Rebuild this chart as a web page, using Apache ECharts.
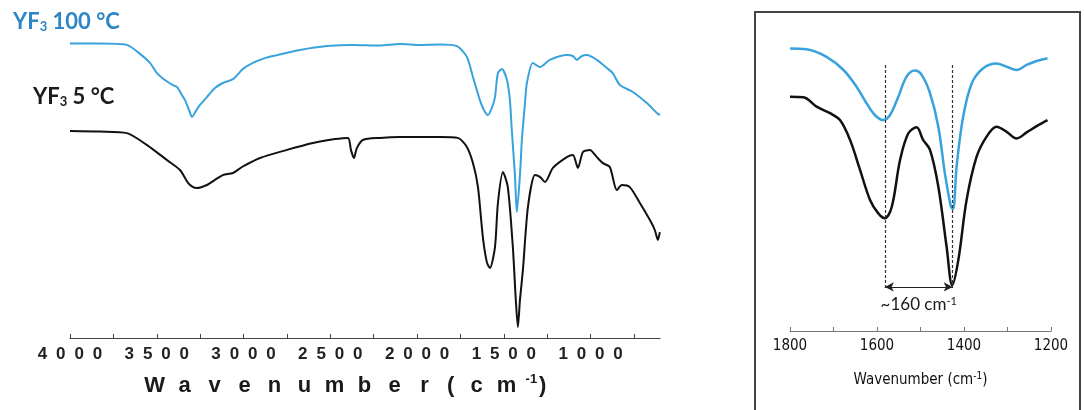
<!DOCTYPE html>
<html>
<head>
<meta charset="utf-8">
<script src="https://cdn.jsdelivr.net/npm/echarts@6/dist/echarts.min.js"></script>
<style>
  html, body { margin: 0; padding: 0; background: #fff; }
  #chart { width: 1084px; height: 410px; }
</style>
</head>
<body>
<div id="chart"></div>
<script>
// full spectrum, YF3 100 °C (blue)
const blueWn = [4000, 3827, 3672, 3597, 3539, 3499, 3453, 3407, 3384, 3355, 3337, 3314, 3297, 3274, 3251, 3211, 3165, 3119, 3061, 3003, 2946, 2877, 2807, 2675, 2519, 2370, 2214, 2099, 1984, 1868, 1770, 1713, 1678, 1638, 1615, 1592, 1569, 1551, 1534, 1511, 1482, 1465, 1454, 1436, 1425, 1407, 1396, 1379, 1367, 1333, 1292, 1235, 1137, 1102, 1079, 1050, 1021, 964, 906, 872, 831, 756, 676, 618, 601]
const blueT = [98.2, 98.2, 97.7, 94.7, 91.7, 88.3, 86.0, 84.3, 83.7, 81.0, 79.3, 76.0, 73.7, 75.7, 77.7, 80.3, 83.3, 85.0, 86.3, 89.7, 91.7, 93.3, 94.3, 96.0, 97.3, 97.7, 97.5, 98.0, 97.7, 97.8, 97.3, 93.7, 87.0, 79.3, 76.0, 74.3, 76.7, 80.3, 88.3, 89.7, 86.0, 79.3, 69.3, 54.3, 42.0, 54.3, 66.0, 77.7, 85.0, 91.7, 90.3, 92.7, 94.3, 94.0, 92.7, 94.0, 94.3, 92.7, 90.0, 88.3, 84.3, 82.0, 78.3, 75.0, 74.3]

// full spectrum, YF3 5 °C (black)
const blackWn = [4000, 3827, 3672, 3556, 3441, 3366, 3320, 3291, 3268, 3211, 3165, 3119, 3061, 3009, 2905, 2750, 2600, 2473, 2398, 2381, 2364, 2347, 2312, 2214, 2099, 1984, 1868, 1765, 1713, 1678, 1649, 1621, 1598, 1580, 1551, 1534, 1505, 1477, 1448, 1431, 1419, 1407, 1390, 1361, 1321, 1292, 1263, 1217, 1137, 1102, 1073, 1044, 1004, 964, 929, 889, 849, 820, 774, 716, 658, 630, 612, 601]
const blackT = [69.0, 68.8, 68.3, 64.3, 59.3, 56.0, 51.7, 50.3, 50.0, 51.0, 52.7, 54.3, 55.0, 57.0, 60.0, 62.7, 65.0, 66.3, 66.7, 62.7, 60.0, 63.3, 66.0, 66.7, 67.0, 67.0, 67.0, 66.7, 63.7, 58.3, 50.3, 33.7, 25.3, 23.3, 30.3, 45.0, 55.3, 50.3, 30.3, 12.7, 3.7, 12.7, 22.7, 43.7, 54.3, 53.7, 52.0, 56.7, 60.3, 61.0, 56.7, 62.0, 62.7, 60.3, 58.3, 57.0, 49.3, 51.0, 50.3, 45.0, 39.3, 36.0, 32.7, 35.3]

// zoomed window 1800-1200
const blueZoomWn = [1800, 1762, 1716, 1677, 1647, 1624, 1605, 1586, 1570, 1551, 1532, 1513, 1497, 1478, 1459, 1444, 1430, 1425, 1417, 1402, 1382, 1356, 1325, 1302, 1279, 1256, 1233, 1208]
const blueZoomT = [94.2, 93.9, 91.4, 87.0, 81.4, 75.9, 72.0, 70.3, 72.0, 78.1, 84.8, 86.8, 85.3, 79.2, 68.1, 52.6, 41.4, 40.7, 54.8, 71.4, 82.6, 87.6, 89.2, 88.1, 87.0, 88.7, 90.0, 90.9]
const blackZoomWn = [1800, 1769, 1739, 1708, 1685, 1662, 1639, 1616, 1597, 1582, 1566, 1547, 1528, 1509, 1494, 1478, 1459, 1440, 1427, 1413, 1394, 1371, 1348, 1325, 1302, 1279, 1256, 1233, 1208]
const blackZoomT = [78.1, 77.9, 74.8, 72.6, 70.3, 63.7, 53.7, 43.7, 39.2, 37.6, 41.4, 57.0, 65.9, 67.9, 63.7, 60.3, 48.1, 28.1, 15.3, 23.7, 43.7, 58.1, 64.8, 68.1, 66.4, 64.2, 66.2, 68.3, 70.3]

// peak markers
const peakWn = [1582, 1426]
const dashTop = 88.7
const dashBottom = 14.3
const arrowLevel = 14.7

// axis ticks
const mainTicks = [4000, 3750, 3500, 3250, 3000, 2750, 2500, 2250, 2000, 1750, 1500, 1250, 1000, 750]
const mainLabels = [4000, 3500, 3000, 2500, 2000, 1500, 1000]

const pair = (xs, ys) => xs.map((x, i) => [x, ys[i]])

const spaced = (s) => s.split('').map(ch => '{d|' + ch + '}').join('')
const titleChars = 'Wavenumber'.split('').map(ch => '{t|' + ch + '}').join('') +
  '{q|(}{t|c}{t|m}{s|-1}{p|)}'

const chart = echarts.init(document.getElementById('chart'))

const titleFont = { fontSize: 22, fontWeight: 'bold', color: '#1a1a1a', fontFamily: 'Liberation Sans', lineHeight: 26 }

const option = {
  animation: false,
  grid: [
    { left: 70, right: 424, top: 38, bottom: 72 },
    { left: 790, right: 33, top: 31, bottom: 79 },
  ],
  xAxis: [
    {
      gridIndex: 0,
      type: 'value',
      min: 600,
      max: 4000,
      inverse: true,
      splitLine: { show: false },
      axisLine: { lineStyle: { color: '#444', width: 1.2 } },
      axisTick: { inside: true, length: 4, customValues: mainTicks, lineStyle: { color: '#444' } },
      axisLabel: {
        customValues: mainLabels,
        interval: 0,
        margin: 8,
        formatter: (v) => spaced(String(v)),
        rich: {
          d: { width: 18.3, align: 'center', fontSize: 17, fontWeight: 'bold', color: '#222', fontFamily: 'Liberation Sans' },
        },
      },
      name: titleChars,
      nameLocation: 'middle',
      nameGap: 35,
      nameTextStyle: {
        padding: [0, 44, 0, 0],
        rich: {
          t: Object.assign({ width: 30, align: 'center' }, titleFont),
          q: Object.assign({ width: 22, align: 'center' }, titleFont),
          s: { align: 'center', fontSize: 13, fontWeight: 'bold', color: '#1a1a1a', fontFamily: 'Liberation Sans', verticalAlign: 'top', lineHeight: 14, padding: [0, 2, 0, 4] },
          p: Object.assign({ align: 'center' }, titleFont),
        },
      },
    },
    {
      gridIndex: 1,
      type: 'value',
      min: 1200,
      max: 1800,
      interval: 100,
      inverse: true,
      splitLine: { show: false },
      axisLine: { lineStyle: { color: '#777', width: 1 } },
      axisTick: { inside: true, length: 4, lineStyle: { color: '#777' } },
      axisLabel: {
        interval: 0,
        margin: 8,
        fontSize: 15,
        color: '#111',
        fontFamily: '"Liberation Sans Narrow", "DejaVu Sans Condensed", "Liberation Sans"',
        formatter: (v) => (v % 200 === 0 ? String(v) : ''),
      },
      name: 'Wavenumber (cm{s|-1})',
      nameLocation: 'middle',
      nameGap: 40,
      nameTextStyle: {
        fontSize: 15,
        color: '#111',
        fontFamily: '"Liberation Sans Narrow", "DejaVu Sans Condensed", "Liberation Sans"',
        lineHeight: 18,
        rich: {
          s: { fontSize: 10, verticalAlign: 'top', lineHeight: 10, color: '#111' },
        },
      },
    },
  ],
  yAxis: [
    { gridIndex: 0, type: 'value', min: 0, max: 100, show: false },
    { gridIndex: 1, type: 'value', min: 0, max: 100, show: false },
  ],
  graphic: [
    {
      type: 'rect',
      shape: { x: 755, y: 12, width: 325, height: 410 },
      style: { fill: 'none', stroke: '#444', lineWidth: 2 },
      silent: true,
    },
    {
      type: 'text',
      left: 13,
      top: 11,
      style: {
        text: 'YF{sub|3} 100 °C',
        fill: '#2e86c6',
        font: 'bold 22px Lato',
        rich: { sub: { fontSize: 13, fontWeight: 'bold', fill: '#2e86c6', verticalAlign: 'bottom', fontFamily: 'Lato' } },
      },
    },
    {
      type: 'text',
      left: 33,
      top: 86,
      style: {
        text: 'YF{sub|3} 5 °C',
        fill: '#1a1a1a',
        font: 'bold 22px Lato',
        rich: { sub: { fontSize: 13, fontWeight: 'bold', fill: '#1a1a1a', verticalAlign: 'bottom', fontFamily: 'Lato' } },
      },
    },
  ],
  series: [
    {
      type: 'line',
      xAxisIndex: 0,
      yAxisIndex: 0,
      data: pair(blueWn, blueT),
      symbol: 'none',
      smooth: 0.25,
      lineStyle: { color: '#38a2dc', width: 2 },
    },
    {
      type: 'line',
      xAxisIndex: 0,
      yAxisIndex: 0,
      data: pair(blackWn, blackT),
      symbol: 'none',
      smooth: 0.25,
      lineStyle: { color: '#111', width: 2 },
    },
    {
      type: 'line',
      xAxisIndex: 1,
      yAxisIndex: 1,
      data: pair(blueZoomWn, blueZoomT),
      symbol: 'none',
      smooth: 0.35,
      lineStyle: { color: '#38a2dc', width: 2.5 },
    },
    {
      type: 'line',
      xAxisIndex: 1,
      yAxisIndex: 1,
      data: pair(blackZoomWn, blackZoomT),
      symbol: 'none',
      smooth: 0.35,
      lineStyle: { color: '#111', width: 2.5 },
      markLine: {
        silent: true,
        symbol: ['none', 'none'],
        label: { show: false },
        lineStyle: { color: '#333', width: 1.2, type: [3, 2] },
        data: [
          [{ coord: [peakWn[0], dashTop] }, { coord: [peakWn[0], dashBottom] }],
          [{ coord: [peakWn[1], dashTop] }, { coord: [peakWn[1], dashBottom] }],
          [
            {
              coord: [peakWn[0], arrowLevel],
              symbol: 'arrow',
              symbolSize: [7, 9],
              lineStyle: { type: 'solid', width: 1, color: '#222' },
              label: {
                show: true,
                position: 'insideMiddleBottom',
                distance: 9,
                formatter: '~160 cm{s|-1}',
                color: '#1a1a1a',
                fontSize: 17,
                fontFamily: 'Lato',
                rich: { s: { fontSize: 11, verticalAlign: 'top', lineHeight: 11, color: '#1a1a1a', fontFamily: 'Lato' } },
              },
            },
            { coord: [peakWn[1], arrowLevel], symbol: 'arrow', symbolSize: [7, 9] },
          ],
        ],
      },
    },
  ],
}

chart.setOption(option)
window.addEventListener('resize', () => chart.resize())
</script>
</body>
</html>
